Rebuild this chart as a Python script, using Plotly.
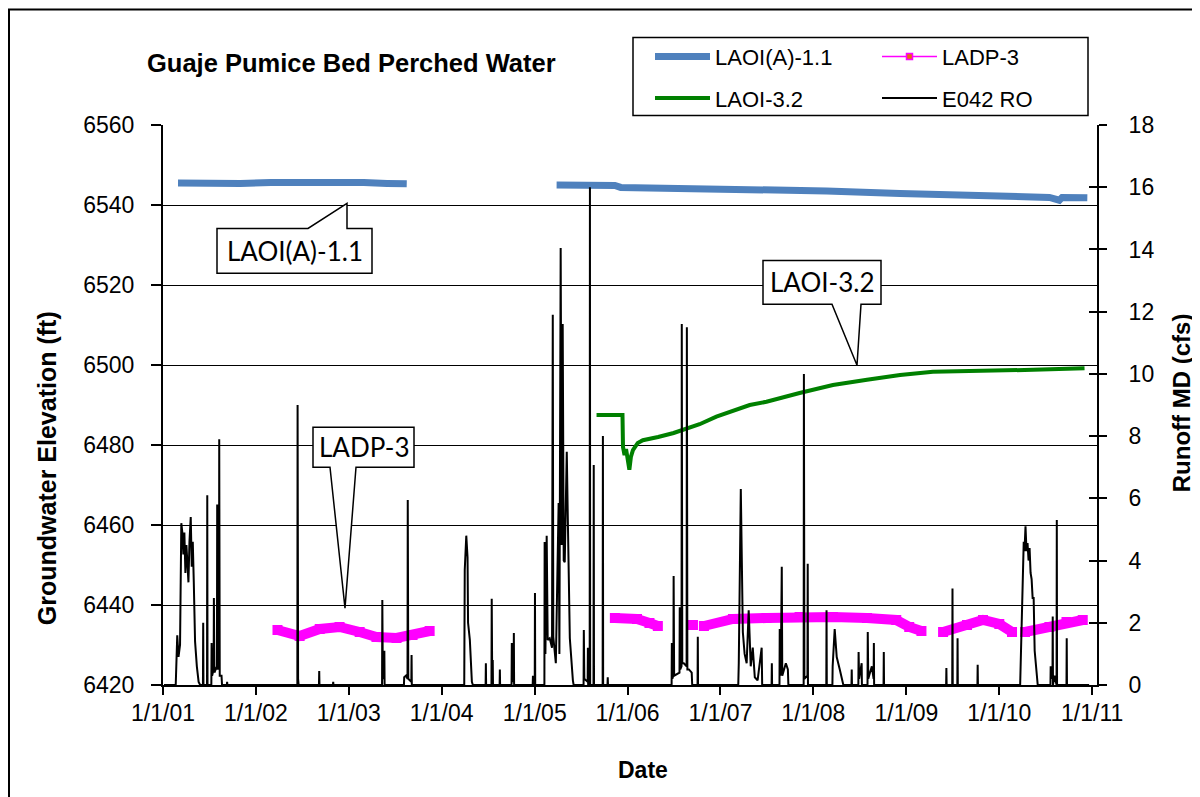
import plotly.graph_objects as go

# ---------------- data ----------------
laoi_a_dates = ["2001-03-01", "2001-07-01", "2001-11-01", "2002-03-01", "2002-07-01",
                "2002-11-01", "2003-03-01", "2003-06-01", "2003-08-17", None,
                "2005-03-28", "2005-11-12", "2005-12-05", "2006-08-10", "2007-04-26",
                "2008-02-22", "2008-12-07", "2009-06-19", "2010-01-01", "2010-07-17",
                "2010-08-25", "2010-09-05", "2010-12-13"]
laoi_a_vals = [6545.5, 6545.3, 6545.4, 6545.6, 6545.7,
               6545.5, 6545.6, 6545.4, 6545.3, None,
               6545.0, 6544.9, 6544.4, 6544.25, 6543.9,
               6543.5, 6542.9, 6542.5, 6542.2, 6541.9,
               6541.2, 6541.9, 6541.8]

ladp3_dates = ["2002-03-27", "2002-06-22", "2002-09-09", "2002-11-26", "2003-02-13",
               "2003-04-20", "2003-07-08", "2003-09-09", "2003-11-15", None,
               "2005-11-12", "2006-02-07", "2006-03-28", "2006-04-30", None,
               "2006-09-15", None,
               "2006-10-28", "2007-02-19", "2007-07-01", "2007-11-08", "2008-03-18",
               "2008-07-30", "2008-11-22", "2009-01-12", "2009-03-01", None,
               "2009-05-25", "2009-08-27", "2009-10-29", "2010-01-01", "2010-02-20", None,
               "2010-04-12", "2010-07-17", "2010-09-22", "2010-11-25"]
ladp3_vals = [6433.75, 6432.25, 6434.0, 6434.5, 6433.25,
              6432.0, 6431.75, 6432.5, 6433.5, None,
              6436.75, 6436.5, 6435.5, 6434.75, None,
              6435.0, None,
              6434.75, 6436.5, 6436.75, 6437.0, 6437.0,
              6436.75, 6436.25, 6434.5, 6433.5, None,
              6433.25, 6435.0, 6436.25, 6435.25, 6433.25, None,
              6433.25, 6434.5, 6435.75, 6436.25]

laoi32_dates = ["2005-09-01", "2005-12-12", "2005-12-14", "2005-12-20", "2005-12-26",
                "2006-01-02", "2006-01-08", "2006-01-14", "2006-01-22", "2006-02-10",
                "2006-03-02", "2006-05-01", "2006-07-01", "2006-10-11", "2006-12-16",
                "2007-04-26", "2007-07-01", "2007-11-08", "2008-03-18", "2008-07-30",
                "2008-12-07", "2009-04-15", "2010-01-04", "2010-05-14", "2010-12-02"]
laoi32_vals = [6487.5, 6487.5, 6479.5, 6477.5, 6479.0,
               6476.0, 6473.8, 6477.0, 6478.7, 6480.5,
               6481.2, 6482.0, 6483.0, 6485.2, 6487.1,
               6490.0, 6490.8, 6493.0, 6495.0, 6496.3,
               6497.5, 6498.3, 6498.5, 6498.8, 6499.2]

runoff_dates = [
    "2001-01-05", "2001-02-20", "2001-02-26", "2001-03-03", "2001-03-09", "2001-03-14",
    "2001-03-18", "2001-03-22", "2001-03-26", "2001-03-30", "2001-04-03", "2001-04-07",
    "2001-04-11", "2001-04-15", "2001-04-20", "2001-04-24", "2001-04-28", "2001-05-02",
    "2001-05-07", "2001-05-14", "2001-05-21", "2001-05-27",
    "2001-06-07", "2001-06-08", "2001-06-09",
    "2001-06-23", "2001-06-24", "2001-06-25",
    "2001-07-10", "2001-07-11", "2001-07-13", "2001-07-19", "2001-07-20", "2001-07-22",
    "2001-08-01", "2001-08-02", "2001-08-04", "2001-08-09", "2001-08-10", "2001-08-12",
    "2001-08-19", "2001-08-21", "2001-09-09", "2001-09-10", "2001-09-11",
    "2002-06-13", "2002-06-14", "2002-06-16", "2002-06-18",
    "2002-09-06", "2002-09-07", "2002-09-08",
    "2002-10-31", "2002-11-01", "2002-11-02",
    "2003-05-12", "2003-05-13", "2003-05-15", "2003-05-20", "2003-05-21", "2003-05-22",
    "2003-08-06", "2003-08-07", "2003-08-14", "2003-08-20", "2003-08-21", "2003-08-23",
    "2003-09-04", "2003-09-05", "2003-09-06",
    "2004-03-30", "2004-04-01", "2004-04-07", "2004-04-09", "2004-04-12", "2004-04-14",
    "2004-04-21", "2004-04-29", "2004-05-03",
    "2004-06-22", "2004-06-23", "2004-06-24",
    "2004-07-15", "2004-07-16", "2004-07-18", "2004-07-20", "2004-07-21",
    "2004-08-16", "2004-08-17", "2004-08-18",
    "2004-10-02", "2004-10-03", "2004-10-05", "2004-10-10", "2004-10-11", "2004-10-12",
    "2004-12-24", "2004-12-25", "2004-12-27",
    "2005-01-01", "2005-01-02", "2005-01-03",
    "2005-02-08", "2005-02-09", "2005-02-12", "2005-02-17", "2005-02-21", "2005-03-01",
    "2005-03-10", "2005-03-13", "2005-03-15", "2005-03-25", "2005-04-05", "2005-04-08",
    "2005-04-13", "2005-04-17", "2005-04-21", "2005-04-25", "2005-04-29", "2005-05-07",
    "2005-05-11", "2005-05-19", "2005-05-31", "2005-06-03",
    "2005-07-12", "2005-07-13", "2005-07-15", "2005-07-28", "2005-07-29", "2005-07-30",
    "2005-08-05", "2005-08-06", "2005-08-07",
    "2005-08-20", "2005-08-21", "2005-08-22",
    "2005-09-25", "2005-09-26", "2005-09-27",
    "2005-10-14", "2005-10-15", "2005-10-16",
    "2006-06-23", "2006-06-24", "2006-06-26", "2006-06-30", "2006-07-01", "2006-07-03",
    "2006-07-24", "2006-07-25", "2006-07-27", "2006-08-01", "2006-08-02", "2006-08-04",
    "2006-08-10", "2006-08-21", "2006-08-22", "2006-08-24", "2006-08-30", "2006-09-10",
    "2006-09-12",
    "2006-10-03", "2006-10-04", "2006-10-05",
    "2007-03-12", "2007-03-14", "2007-03-22", "2007-03-26", "2007-03-30", "2007-04-06",
    "2007-04-14", "2007-04-22", "2007-04-30", "2007-05-08", "2007-05-16", "2007-05-27",
    "2007-06-12", "2007-06-14",
    "2007-07-21", "2007-07-22", "2007-07-23",
    "2007-08-21", "2007-08-22", "2007-08-26", "2007-08-30", "2007-09-01", "2007-09-15",
    "2007-09-23", "2007-09-25",
    "2007-11-24", "2007-11-25", "2007-11-27", "2007-12-09", "2007-12-10", "2007-12-11",
    "2008-02-21", "2008-02-22", "2008-02-23",
    "2008-03-16", "2008-03-17", "2008-03-25", "2008-04-02", "2008-04-14", "2008-04-25",
    "2008-04-28",
    "2008-05-30", "2008-05-31", "2008-06-01",
    "2008-06-26", "2008-06-27", "2008-06-29", "2008-07-09", "2008-07-10",
    "2008-08-01", "2008-08-02", "2008-08-04", "2008-08-18", "2008-08-25", "2008-08-26",
    "2008-08-27",
    "2008-10-03", "2008-10-04", "2008-10-05",
    "2009-06-06", "2009-06-07", "2009-06-08",
    "2009-06-30", "2009-07-01", "2009-07-02",
    "2009-07-20", "2009-07-21", "2009-07-22",
    "2009-10-07", "2009-10-08", "2009-10-09",
    "2010-03-24", "2010-03-25", "2010-04-02", "2010-04-07", "2010-04-10", "2010-04-14",
    "2010-04-18", "2010-04-22", "2010-04-26", "2010-04-30", "2010-05-04", "2010-05-08",
    "2010-05-12", "2010-05-16", "2010-05-20", "2010-05-28", "2010-06-01",
    "2010-07-21", "2010-07-22", "2010-07-29", "2010-07-30", "2010-07-31", "2010-08-06",
    "2010-08-14", "2010-08-15", "2010-08-16",
    "2010-09-22", "2010-09-23", "2010-09-24", "2010-12-20"]
runoff_vals = [
    0, 0, 1.6, 0.9, 1.3, 5.2,
    4.9, 4.2, 4.9, 3.6, 4.5, 4.0,
    3.3, 4.6, 5.4, 3.8, 4.6, 3.3,
    1.4, 0.6, 0.1, 0,
    0, 2.0, 0,
    0, 6.1, 0,
    0, 1.35, 0.3, 0.5, 2.8, 0.4,
    0.6, 5.8, 0.5, 0.6, 7.9, 0.3,
    0.3, 0, 0, 0.1, 0,
    0, 9.0, 0.2, 0,
    0, 0.45, 0,
    0, 0.1, 0,
    0, 2.73, 0.3, 0.2, 1.1, 0,
    0, 0.25, 0.3, 0.2, 5.95, 0.2,
    0.1, 0.96, 0,
    0, 3.7, 4.8, 4.5, 4.1, 2.0,
    1.45, 0.1, 0,
    0, 0.7, 0,
    0, 2.77, 0.1, 0.8, 0,
    0, 0.5, 0,
    0, 1.35, 0.1, 0.2, 1.67, 0,
    0, 0.3, 0,
    0, 2.96, 0,
    0, 4.6, 1.0, 4.8, 1.45, 1.5,
    1.2, 11.9, 1.55, 0.7, 5.85, 1.0,
    14.05, 4.5, 11.6, 4.0, 3.95, 7.5,
    5.4, 1.5, 0.15, 0,
    0, 1.77, 0.2, 0.1, 1.2, 0,
    0, 16.0, 0,
    0, 7.07, 0,
    0, 8.0, 0,
    0, 0.25, 0,
    0, 1.35, 0.2, 0.3, 3.5, 0.3,
    0.4, 2.5, 0.5, 0.6, 11.6, 0.7,
    0.7, 0.6, 11.5, 0.5, 0.5, 0.4,
    0,
    0, 1.55, 0,
    0, 0.7, 6.3, 3.7, 1.7, 1.0,
    0.7, 2.4, 0.6, 1.2, 0.25, 0.15,
    1.2, 0,
    0, 0.7, 0,
    0, 1.8, 0.3, 3.8, 0.3, 0.7,
    0.5, 0,
    0, 10.0, 0.2, 0.3, 3.9, 0,
    0, 2.4, 0,
    0, 0.6, 1.8, 0.9, 0.5, 0.15,
    0,
    0, 0.5, 0,
    0, 1.06, 0.2, 0.7, 0,
    0, 1.7, 0.2, 0.6, 0.2, 1.35,
    0,
    0, 1.06, 0,
    0, 0.55, 0,
    0, 3.1, 0,
    0, 1.5, 0,
    0, 0.65, 0,
    0, 0.4, 3.6, 4.6, 4.3, 5.1,
    4.3, 4.56, 4.0, 4.4, 3.6, 3.4,
    2.8, 2.8, 1.1, 0.15, 0,
    0, 0.6, 0.2, 2.2, 0, 0.3,
    0, 5.3, 0,
    0, 1.5, 0, 0]

year_ticks = ["2001-01-01", "2002-01-01", "2003-01-01", "2004-01-01", "2005-01-01", "2006-01-01",
              "2007-01-01", "2008-01-01", "2009-01-01", "2010-01-01", "2011-01-01"]
year_labels = ["1/1/01", "1/1/02", "1/1/03", "1/1/04", "1/1/05", "1/1/06",
               "1/1/07", "1/1/08", "1/1/09", "1/1/10", "1/1/11"]
left_ticks = [6420, 6440, 6460, 6480, 6500, 6520, 6540, 6560]
right_ticks = [0, 2, 4, 6, 8, 10, 12, 14, 16, 18]

# ---------------- layout helpers ----------------
W, H = 1200, 797
OFF = 8                      # page offset of the figure in the screenshot
L, R, T, B = 155, 1089, 116.5, 677   # plot area in figure pixels


def P(x, y):
    """screenshot pixel -> paper coordinates"""
    return (x - OFF - L) / (R - L), (B - (y - OFF)) / (B - T)


def F(x, y):
    """figure pixel -> paper coordinates"""
    return (x - L) / (R - L), (B - y) / (B - T)


def path(pts):
    s = []
    for i, (x, y) in enumerate(pts):
        px, py = P(x, y)
        s.append(("M" if i == 0 else "L") + f"{px:.5f},{py:.5f}")
    return " ".join(s) + " Z"


FONT = "Liberation Sans, Arial, sans-serif"
CALLOUT_FONT = "Lato, Open Sans, sans-serif"

fig = go.Figure()
fig.add_trace(go.Scatter(x=laoi_a_dates, y=laoi_a_vals, name="LAOI(A)-1.1", mode="lines",
                         line=dict(color="#4F81BD", width=7), connectgaps=False,
                         legend="legend", legendgroup="g1"))
fig.add_trace(go.Scatter(x=ladp3_dates, y=ladp3_vals, name="LADP-3", mode="lines+markers",
                         line=dict(color="#FF00FF", width=10),
                         marker=dict(symbol="square", size=10, color="#FF00FF"),
                         connectgaps=False, showlegend=False, legendgroup="g2"))
fig.add_trace(go.Scatter(x=[None], y=[None], name="LADP-3", mode="lines+markers",
                         line=dict(color="#FF00FF", width=1.5),
                         marker=dict(symbol="square", size=6, color="#E46C0A",
                                     line=dict(color="#FF00FF", width=1.5)),
                         legend="legend2", legendgroup="g2"))
fig.add_trace(go.Scatter(x=laoi32_dates, y=laoi32_vals, name="LAOI-3.2", mode="lines",
                         line=dict(color="#008000", width=4),
                         legend="legend", legendgroup="g3"))
fig.add_trace(go.Scatter(x=runoff_dates, y=runoff_vals, name="E042 RO", mode="lines",
                         line=dict(color="black", width=2), yaxis="y2",
                         legend="legend2", legendgroup="g4"))
fig.add_trace(go.Scatter(x=[None], y=[None], yaxis="y3", showlegend=False, hoverinfo="skip"))

axis_common = dict(color="black", linecolor="black", linewidth=2, tickcolor="black",
                   tickwidth=2, zeroline=False, automargin=False,
                   tickfont=dict(family=FONT, size=23, color="black"))

shapes = [
    # outer frame (figure border)
    dict(type="rect", xref="paper", yref="paper",
         x0=F(1, 0)[0], x1=F(1199, 0)[0], y0=F(0, 796)[1], y1=F(0, 1)[1],
         line=dict(color="black", width=2), fillcolor="rgba(0,0,0,0)", layer="below"),
    # legend box
    dict(type="rect", xref="paper", yref="paper",
         x0=P(633, 0)[0], x1=P(1088, 0)[0], y0=P(0, 115)[1], y1=P(0, 37)[1],
         line=dict(color="black", width=1.5), fillcolor="white", layer="below"),
    # callouts
    dict(type="path", xref="paper", yref="paper",
         path=path([(217, 228), (308, 228), (347, 203), (347, 228), (372, 228), (372, 273), (217, 273)]),
         line=dict(color="black", width=1.5), fillcolor="white"),
    dict(type="path", xref="paper", yref="paper",
         path=path([(313, 427), (414, 427), (414, 467), (356, 467), (345, 608), (330, 467), (313, 467)]),
         line=dict(color="black", width=1.5), fillcolor="white"),
    dict(type="path", xref="paper", yref="paper",
         path=path([(763, 260), (881, 260), (881, 304), (861, 304), (857, 365), (832, 304), (763, 304)]),
         line=dict(color="black", width=1.5), fillcolor="white"),
]

annotations = [
    dict(text="<b>Guaje Pumice Bed Perched Water</b>", x=P(145, 0)[0], y=P(0, 62)[1],
         xref="paper", yref="paper", xanchor="left", yanchor="middle", showarrow=False,
         font=dict(family=FONT, size=25.5, color="black")),
    dict(text="<b>Groundwater Elevation (ft)</b>", x=P(47, 0)[0], y=P(0, 468)[1],
         xref="paper", yref="paper", xanchor="center", yanchor="middle", showarrow=False,
         textangle=-90, font=dict(family=FONT, size=25, color="black")),
    dict(text="<b>Runoff MD (cfs)</b>", x=P(1181, 0)[0], y=P(0, 403)[1],
         xref="paper", yref="paper", xanchor="center", yanchor="middle", showarrow=False,
         textangle=-90, font=dict(family=FONT, size=24, color="black")),
    dict(text="<b>Date</b>", x=P(643, 0)[0], y=P(0, 770)[1],
         xref="paper", yref="paper", xanchor="center", yanchor="middle", showarrow=False,
         font=dict(family=FONT, size=23, color="black")),
    dict(text="LAOI(A)-1.1", x=P(294.5, 0)[0], y=P(0, 251)[1],
         xref="paper", yref="paper", xanchor="center", yanchor="middle", showarrow=False,
         font=dict(family=CALLOUT_FONT, size=26, color="black")),
    dict(text="LADP-3", x=P(363.5, 0)[0], y=P(0, 447)[1],
         xref="paper", yref="paper", xanchor="center", yanchor="middle", showarrow=False,
         font=dict(family=CALLOUT_FONT, size=26, color="black")),
    dict(text="LAOI-3.2", x=P(822, 0)[0], y=P(0, 282)[1],
         xref="paper", yref="paper", xanchor="center", yanchor="middle", showarrow=False,
         font=dict(family=CALLOUT_FONT, size=26, color="black")),
]

legend_common = dict(bgcolor="rgba(0,0,0,0)", borderwidth=0, orientation="v",
                     font=dict(family=FONT, size=22, color="black"), itemwidth=55,
                     tracegroupgap=10, xanchor="left", yanchor="top", xref="paper", yref="paper")

fig.update_layout(
    width=W, height=H,
    margin=dict(l=L, r=W - R, t=T, b=H - B),
    paper_bgcolor="white", plot_bgcolor="white",
    font=dict(family=FONT, color="black"),
    xaxis=dict(type="date", range=["2001-01-01", "2011-01-20"], tickvals=year_ticks,
               ticktext=year_labels, ticks="outside", ticklen=8, showline=True,
               showgrid=False, ticklabelstandoff=-2, **axis_common),
    yaxis=dict(range=[6420, 6560], tickvals=left_ticks, ticks="outside", ticklen=10,
               showline=True, showgrid=True, gridcolor="black", gridwidth=1.3,
               ticklabelstandoff=12, **axis_common),
    yaxis2=dict(range=[0, 18], tickvals=right_ticks, overlaying="y", side="right",
                anchor="x", ticks="outside", ticklen=8, showline=True, showgrid=False,
                ticklabelstandoff=17, **axis_common),
    yaxis3=dict(range=[0, 18], tickvals=right_ticks, overlaying="y", side="right",
                anchor="x", ticks="inside", ticklen=8, showline=False, showgrid=False,
                showticklabels=False, color="black", tickcolor="black", tickwidth=2,
                zeroline=False),
    legend=dict(x=P(650, 0)[0], y=P(0, 35)[1], **legend_common),
    legend2=dict(x=P(877, 0)[0], y=P(0, 35)[1], **legend_common),
    shapes=shapes,
    annotations=annotations,
    hovermode=False,
)

fig.write_html("out.html")
